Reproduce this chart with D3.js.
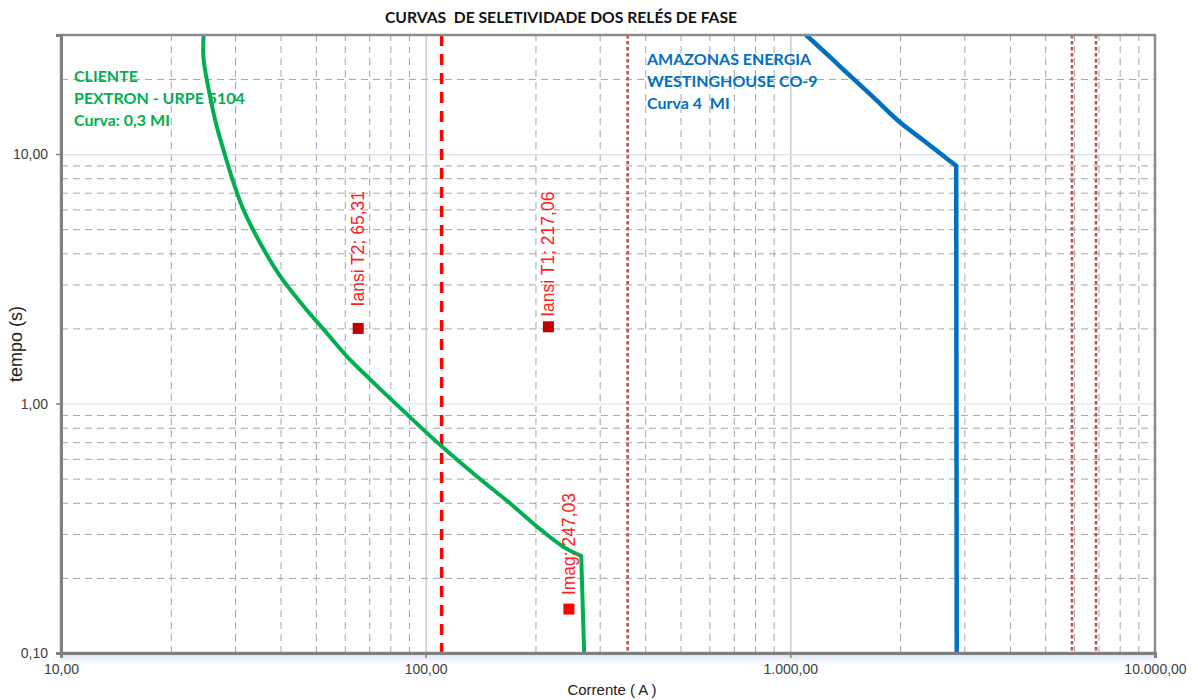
<!DOCTYPE html>
<html>
<head>
<meta charset="utf-8">
<script src="https://cdn.jsdelivr.net/npm/d3@7"></script>
<style>
  html, body { margin: 0; padding: 0; background: #fff; }
  svg { display: block; }
</style>
</head>
<body>
<svg id="chart" width="1198" height="700"></svg>
<script>
// ---------- DATA ----------
const title = "CURVAS  DE SELETIVIDADE DOS RELÉS DE FASE";
const xAxisTitle = "Corrente ( A )";
const yAxisTitle = "tempo (s)";

const xTicks = [10, 100, 1000, 10000];
const xTickLabels = ["10,00", "100,00", "1.000,00", "10.000,00"];
const yTicks = [0.1, 1, 10];
const yTickLabels = ["0,10", "1,00", "10,00"];

// Cliente - Pextron URPE 5104 (current A, time s)
const clienteI = [24.6, 24.6, 25.6, 26.7, 28.2, 29.7, 31.6, 35.1, 39.9, 46.2, 53.5, 60.7, 70.4, 79.8, 98.5, 110.6, 138, 170, 202, 238, 267, 272];
const clienteT = [30, 24.1, 17.2, 13.0, 9.84, 7.70, 6.01, 4.42, 3.24, 2.46, 1.92, 1.55, 1.25, 1.05, 0.786, 0.674, 0.511, 0.399, 0.321, 0.267, 0.245, 0.1];

// Amazonas Energia - Westinghouse CO-9
const amazonasI = [1105, 1284, 1457, 1688, 1998, 2363, 2626, 2850, 2860];
const amazonasT = [30, 24.5, 20.6, 16.9, 13.4, 11.1, 9.84, 8.97, 0.1];

// vertical reference lines
const dashedLines = [110.6];
const dottedLines = [358, 5920, 6890];

// labelled points
const pointNames = ["Iansi T2; 65,31", "Iansi T1; 217,06", "Imag; 247,03"];
const pointI = [65.31, 217.06, 247.03];
const pointT = [2.0, 2.03, 0.15];

const clienteText = ["CLIENTE", "PEXTRON - URPE 5104", "Curva: 0,3 MI"];
const amazonasText = ["AMAZONAS ENERGIA", "WESTINGHOUSE CO-9", "Curva 4  MI"];

// ---------- LAYOUT ----------
const svg = d3.select("#chart");
const L = 61, R = 1155, T = 35, B = 653;
const W = R - L, H = B - T;

const x = d3.scaleLog().domain([10, 10000]).range([L, R]);
const y = d3.scaleLog().domain([0.1, 30]).range([B, T]);

svg.append("rect").attr("width", 1198).attr("height", 700).attr("fill", "#fff");

// shadow under bottom axis
const defs = svg.append("defs");
const grad = defs.append("linearGradient").attr("id", "shadow").attr("x1", 0).attr("y1", 0).attr("x2", 0).attr("y2", 1);
grad.append("stop").attr("offset", "0%").attr("stop-color", "#dfe7f4");
grad.append("stop").attr("offset", "100%").attr("stop-color", "#ffffff");
svg.append("rect").attr("x", L).attr("y", B + 1).attr("width", W).attr("height", 11).attr("fill", "url(#shadow)");

defs.append("clipPath").attr("id", "plotclip").append("rect")
  .attr("x", L).attr("y", T).attr("width", W).attr("height", H);

// minor values
function minorVals(lo, hi) {
  const v = [];
  for (let p = Math.floor(Math.log10(lo)); p <= Math.ceil(Math.log10(hi)); p++) {
    for (let k = 2; k <= 9; k++) {
      const val = k * Math.pow(10, p);
      if (val > lo * 1.0001 && val < hi * 0.9999) v.push(val);
    }
  }
  return v;
}
const xMinor = minorVals(10, 10000);
const yMinor = minorVals(0.1, 30);
const xMajorInner = xTicks.filter(d => d > 10 && d < 10000);
const yMajorInner = yTicks.filter(d => d > 0.1);

// minor vertical dashed grid
const gx = svg.append("g").attr("transform", `translate(0,${B})`)
  .call(d3.axisBottom(x).tickValues(xMinor).tickSize(-H).tickFormat(""));
gx.select(".domain").remove();
gx.selectAll("line").attr("stroke", "#a6a6a6").attr("stroke-width", 1).attr("stroke-dasharray", "7,5");

// minor horizontal dashed grid
const gy = svg.append("g").attr("transform", `translate(${L},0)`)
  .call(d3.axisLeft(y).tickValues(yMinor).tickSize(-W).tickFormat(""));
gy.select(".domain").remove();
gy.selectAll("line").attr("stroke", "#a6a6a6").attr("stroke-width", 1).attr("stroke-dasharray", "7,5");

// major grid
const gxM = svg.append("g").attr("transform", `translate(0,${B})`)
  .call(d3.axisBottom(x).tickValues(xMajorInner).tickSize(-H).tickFormat(""));
gxM.select(".domain").remove();
gxM.selectAll("line").attr("stroke", "#bfbfbf").attr("stroke-width", 1.2);

const gyM = svg.append("g").attr("transform", `translate(${L},0)`)
  .call(d3.axisLeft(y).tickValues(yMajorInner).tickSize(-W).tickFormat(""));
gyM.select(".domain").remove();
gyM.selectAll("line").attr("stroke", "#d6e0f0").attr("stroke-width", 1.2);

// reference lines
const plot = svg.append("g").attr("clip-path", "url(#plotclip)");
plot.selectAll(".dotted").data(dottedLines).enter().append("line")
  .attr("x1", d => x(d)).attr("x2", d => x(d)).attr("y1", T).attr("y2", B)
  .attr("stroke", "#c0504d").attr("stroke-width", 2.6).attr("stroke-dasharray", "3.5,2.5");
plot.selectAll(".dashed").data(dashedLines).enter().append("line")
  .attr("x1", d => x(d)).attr("x2", d => x(d)).attr("y1", T).attr("y2", B)
  .attr("stroke", "#ff0000").attr("stroke-width", 3.5).attr("stroke-dasharray", "11,8");

// curves: smooth inverse-time part, straight instantaneous part
const smooth = d3.line().x(d => x(d[0])).y(d => y(d[1])).curve(d3.curveCatmullRom.alpha(0.5));
const straight = d3.line().x(d => x(d[0])).y(d => y(d[1]));
function drawCurve(I, Tm, color, width) {
  const pts = I.map((d, i) => [d, Tm[i]]);
  const n = pts.length;
  const inv = pts.slice(0, n - 1);
  const inst = pts.slice(n - 2);
  plot.append("path").datum(inv).attr("d", smooth).attr("fill", "none")
    .attr("stroke", color).attr("stroke-width", width).attr("stroke-linejoin", "round").attr("stroke-linecap", "round");
  plot.append("path").datum(inst).attr("d", straight).attr("fill", "none")
    .attr("stroke", color).attr("stroke-width", width).attr("stroke-linejoin", "round");
}
drawCurve(clienteI, clienteT, "#00b050", 4);
drawCurve(amazonasI, amazonasT, "#0070c0", 4.5);

// points and labels
const markerColors = ["#c00000", "#c00000", "#ff0000"];
const labelOffsets = [22, 10, 14];
pointI.forEach((v, i) => {
  const px = x(v), py = y(pointT[i]);
  svg.append("rect").attr("x", px - 5.5).attr("y", py - 5.5).attr("width", 11).attr("height", 11).attr("fill", markerColors[i]);
  svg.append("text")
    .attr("transform", `translate(${px + 6},${py - labelOffsets[i]}) rotate(-90)`)
    .attr("font-family", "'Liberation Sans', Arial, sans-serif")
    .attr("font-size", 17.5).attr("fill", "#ff2020")
    .text(pointNames[i]);
});

// borders
svg.append("rect").attr("x", L).attr("y", T).attr("width", W).attr("height", H)
  .attr("fill", "none").attr("stroke", "#8c8c8c").attr("stroke-width", 2.5);

// axes with ticks & labels
const ax = svg.append("g").attr("transform", `translate(0,${B})`)
  .call(d3.axisBottom(x).tickValues(xTicks).tickFormat((d, i) => xTickLabels[i]).tickSize(5).tickPadding(6));
ax.select(".domain").attr("stroke", "#808080").attr("stroke-width", 3);
ax.selectAll("line").attr("stroke", "#808080").attr("stroke-width", 1.5);
ax.selectAll("text").attr("font-family", "'Liberation Sans', Arial, sans-serif").attr("font-size", 14).attr("fill", "#404040");

const ay = svg.append("g").attr("transform", `translate(${L},0)`)
  .call(d3.axisLeft(y).tickValues(yTicks).tickFormat((d, i) => yTickLabels[i]).tickSize(5).tickPadding(8));
ay.select(".domain").attr("stroke", "#808080").attr("stroke-width", 3);
ay.selectAll("line").attr("stroke", "#808080").attr("stroke-width", 1.5);
ay.selectAll("text").attr("font-family", "'Liberation Sans', Arial, sans-serif").attr("font-size", 14).attr("fill", "#404040");

// title
svg.append("text").attr("x", 561).attr("y", 22.5).attr("text-anchor", "middle")
  .attr("font-family", "Lato, 'Open Sans', sans-serif").attr("font-weight", "bold").attr("font-size", 15.7).attr("fill", "#111")
  .attr("xml:space", "preserve").style("white-space", "pre")
  .text(title);

// axis titles
svg.append("text").attr("x", 612).attr("y", 695).attr("text-anchor", "middle")
  .attr("font-family", "'Liberation Sans', Arial, sans-serif").attr("font-size", 15).attr("fill", "#222")
  .text(xAxisTitle);
svg.append("text").attr("transform", "translate(22,344) rotate(-90)").attr("text-anchor", "middle")
  .attr("font-family", "'Liberation Sans', Arial, sans-serif").attr("font-size", 18).attr("fill", "#222")
  .text(yAxisTitle);

// text blocks
const tb1 = svg.append("text").attr("font-family", "Lato, 'Open Sans', sans-serif").attr("font-weight", "bold")
  .attr("font-size", 16).attr("fill", "#00b050");
clienteText.forEach((s, i) => tb1.append("tspan").attr("x", 74).attr("y", 82 + i * 22).text(s));
const tb2 = svg.append("text").attr("font-family", "Lato, 'Open Sans', sans-serif").attr("font-weight", "bold")
  .attr("font-size", 16).attr("fill", "#0070c0").attr("xml:space", "preserve").style("white-space", "pre");
amazonasText.forEach((s, i) => tb2.append("tspan").attr("x", 647).attr("y", 65 + i * 22.2).text(s));
</script>
</body>
</html>
